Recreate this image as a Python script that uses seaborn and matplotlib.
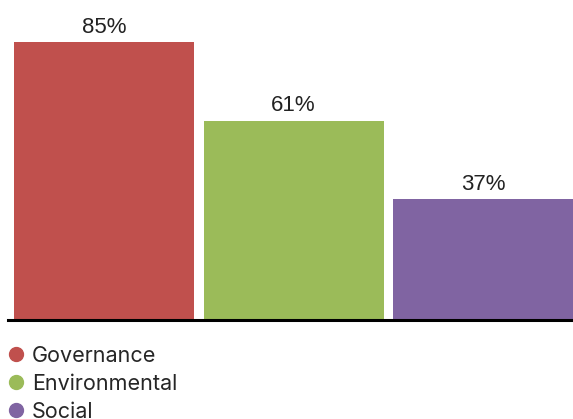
import matplotlib
matplotlib.use("Agg")
import matplotlib.pyplot as plt
from matplotlib.lines import Line2D
import pandas as pd
import seaborn as sns

categories = ["Governance", "Environmental", "Social"]
values = [85, 61, 37]
colors = ["#C0504D", "#9BBB59", "#8064A2"]

df = pd.DataFrame({"category": categories, "value": values})

sns.set_style("white")
plt.rcParams["font.family"] = ["Liberation Sans", "DejaVu Sans"]

fig = plt.figure(figsize=(5.73, 4.19), dpi=100)
ax = fig.add_axes([8 / 573, 99 / 419, 565 / 573, 320 / 419])

sns.barplot(data=df, x="category", y="value", hue="category",
            palette=colors, width=0.95, legend=False, ax=ax, saturation=1,
            linewidth=0)

ax.set_xlim(-0.507, 2.475)
ax.set_ylim(0, 97.9)
for sp in ["top", "right", "left"]:
    ax.spines[sp].set_visible(False)
ax.spines["bottom"].set_linewidth(2.2)
ax.spines["bottom"].set_color("black")
ax.set_xticks([])
ax.set_yticks([])
ax.set_xlabel("")
ax.set_ylabel("")

for c in ax.containers:
    ax.bar_label(c, labels=[f"{int(v)}%" for v in c.datavalues], padding=3,
                 fontsize=16, color="#222222")

handles = [Line2D([0], [0], marker="o", linestyle="", markersize=10,
                  markerfacecolor=col, markeredgecolor=col) for col in colors]
fig.legend(handles, categories, loc="upper left", bbox_to_anchor=(-0.008, 0.195),
           frameon=False, handletextpad=0.2, labelspacing=0.37,
           borderaxespad=0, handlelength=1.1, prop={"family": "Inter", "size": 15.5})

fig.savefig("out.png", dpi=100)
